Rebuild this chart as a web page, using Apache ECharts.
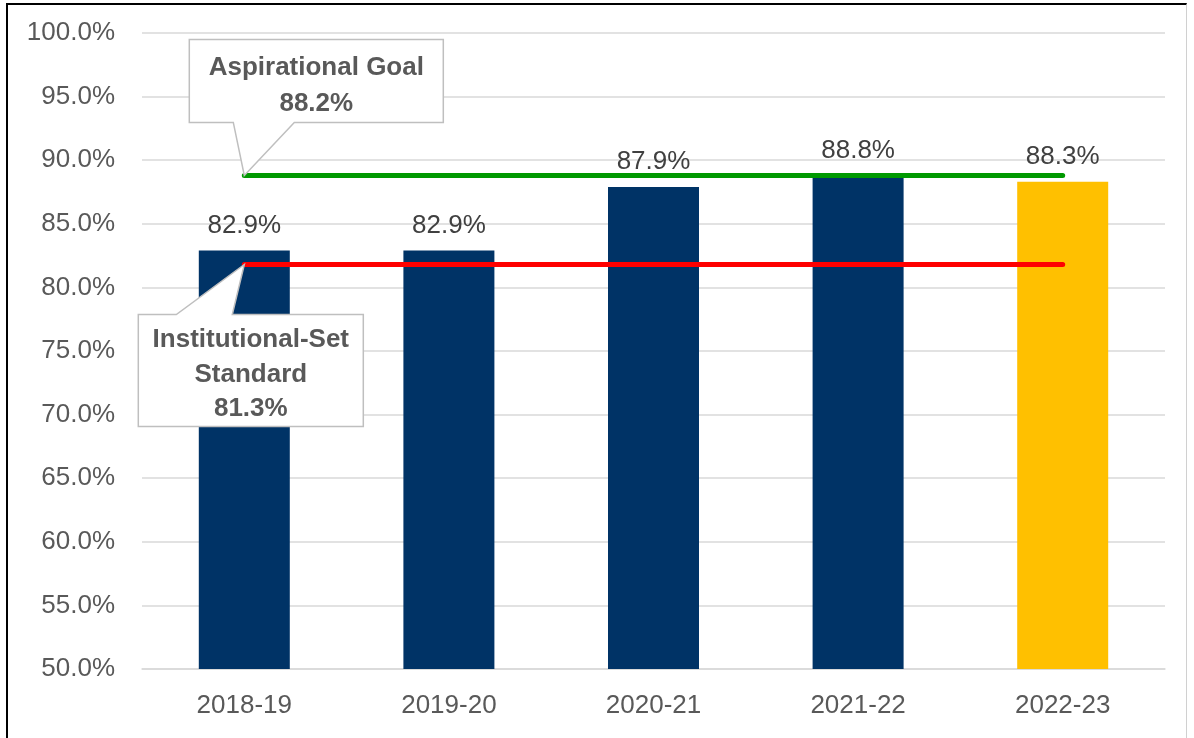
<!DOCTYPE html>
<html>
<head>
<meta charset="utf-8">
<script src="https://cdn.jsdelivr.net/npm/echarts@6/dist/echarts.min.js"></script>
<style>
html,body{margin:0;padding:0;background:#fff;overflow:hidden;}
#chart{position:absolute;left:0;top:0;width:1194px;height:738px;}
#frame{position:absolute;left:6px;top:3px;width:1178px;height:800px;border-left:2px solid #000;border-top:2px solid #000;border-right:1px solid #d0d0d0;pointer-events:none;}
</style>
</head>
<body>
<div id="chart"></div>
<div id="frame"></div>
<script>
// Data
const categories = ['2018-19', '2019-20', '2020-21', '2021-22', '2022-23'];
const rates = [82.9, 82.9, 87.9, 88.8, 88.3];
const barColors = ['#003366', '#003366', '#003366', '#003366', '#FFC000'];
// Reference lines as drawn in the picture (one point per category)
const goalLine = [88.8, 88.8, 88.8, 88.8, 88.8];
const standardLine = [81.8, 81.8, 81.8, 81.8, 81.8];
// Callout texts
const goalTitle = 'Aspirational Goal';
const goalLabel = '88.2%';
const standardTitle = ['Institutional-Set', 'Standard'];
const standardLabel = '81.3%';

const FONT = '"Liberation Sans", Arial, sans-serif';
const chart = echarts.init(document.getElementById('chart'), null, {renderer: 'canvas'});

chart.setOption({
  animation: false,
  backgroundColor: '#fff',
  grid: {left: 142, right: 29, top: 33, bottom: 69, containLabel: false},
  xAxis: {
    type: 'category',
    data: categories,
    axisTick: {show: false},
    axisLine: {lineStyle: {color: '#d9d9d9', width: 1.5}},
    axisLabel: {color: '#595959', fontSize: 26, fontFamily: FONT, margin: 24}
  },
  yAxis: {
    type: 'value',
    min: 50, max: 100, interval: 5,
    axisLine: {show: false},
    axisTick: {show: false},
    splitLine: {lineStyle: {color: '#d9d9d9', width: 1.5}},
    axisLabel: {color: '#595959', fontSize: 26, fontFamily: FONT, margin: 27,
      padding: [4, 0, 0, 0],
      formatter: v => v.toFixed(1) + '%'}
  },
  series: [
    {
      type: 'bar',
      barWidth: 91,
      data: rates.map((v, i) => ({value: v, itemStyle: {color: barColors[i]}})),
      label: {show: true, position: 'top', distance: 12, color: '#404040',
        fontSize: 26, fontFamily: FONT, formatter: p => p.value.toFixed(1) + '%'},
      z: 2
    },
    {
      type: 'line', data: goalLine, symbol: 'none', silent: true,
      lineStyle: {color: '#009900', width: 5, cap: 'round'}, z: 3
    },
    {
      type: 'line', data: standardLine, symbol: 'none', silent: true,
      lineStyle: {color: '#FF0000', width: 5, cap: 'round'}, z: 3
    }
  ]
});

const g = chart.convertToPixel({seriesIndex: 1}, [0, goalLine[0]]);
const s = chart.convertToPixel({seriesIndex: 2}, [0, standardLine[0]]);

const boxStyle = {fill: '#fff', stroke: '#bfbfbf', lineWidth: 1.5};
const txtStyle = {fill: '#595959', font: 'bold 26px ' + FONT, align: 'center', verticalAlign: 'middle'};

function goalCallout(tx, ty) {
  const L = tx - 55, R = tx + 199, T = ty - 136, B = ty - 53;
  const cx = (L + R) / 2;
  return [
    {type: 'polygon', z: 100, shape: {points: [[L, T], [R, T], [R, B], [tx + 50, B], [tx, ty], [tx - 11, B], [L, B]]}, style: boxStyle},
    {type: 'text', z: 101, x: cx, y: ty - 108, style: Object.assign({text: goalTitle}, txtStyle)},
    {type: 'text', z: 101, x: cx, y: ty - 72, style: Object.assign({text: goalLabel}, txtStyle)}
  ];
}
function standardCallout(tx, ty) {
  const L = tx - 106, R = tx + 119, T = ty + 50, B = ty + 162;
  const cx = (L + R) / 2;
  return [
    {type: 'polygon', z: 100, shape: {points: [[L, T], [tx - 68, T], [tx, ty], [tx - 12, T], [R, T], [R, B], [L, B]]}, style: boxStyle},
    {type: 'text', z: 101, x: cx, y: ty + 75, style: Object.assign({text: standardTitle[0]}, txtStyle)},
    {type: 'text', z: 101, x: cx, y: ty + 110, style: Object.assign({text: standardTitle[1]}, txtStyle)},
    {type: 'text', z: 101, x: cx, y: ty + 144, style: Object.assign({text: standardLabel}, txtStyle)}
  ];
}

chart.setOption({graphic: goalCallout(g[0], g[1]).concat(standardCallout(s[0], s[1]))});
</script>
</body>
</html>
